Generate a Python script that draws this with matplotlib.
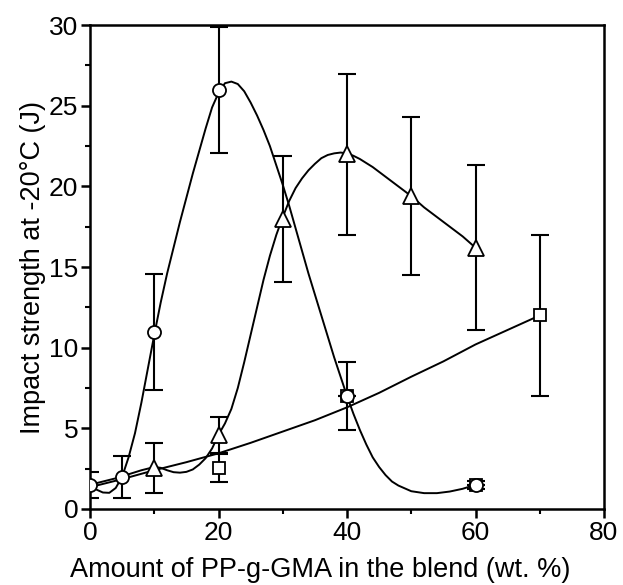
import matplotlib
matplotlib.use("Agg")
import matplotlib.pyplot as plt
from matplotlib.ticker import MultipleLocator

plt.rcParams['font.family'] = ['Liberation Sans', 'DejaVu Sans']

# measured points (PP-g-GMA wt.% vs impact strength, J)
circ_x = [0, 5, 10, 20, 40, 60]
circ_y = [1.5, 2.0, 11.0, 26.0, 7.0, 1.5]
circ_err = [0.8, 1.3, 3.6, 3.9, 2.1, 0.25]

tri_x = [10, 20, 30, 40, 50, 60]
tri_y = [2.55, 4.6, 18.0, 22.0, 19.4, 16.2]
tri_err = [1.55, 1.1, 3.9, 5.0, 4.9, 5.1]

sq_x = [20, 40, 60, 70]
sq_y = [2.55, 7.0, 1.5, 12.0]
sq_err = [0.85, 0.0, 0.0, 5.0]

# fitted curves
circ_fit_x = [0, 1, 2, 3, 4, 5, 6, 7, 8, 9, 10, 11, 12, 13, 14, 15, 16, 17, 18, 19, 20,
              21, 22, 23, 24, 25, 26, 27, 28, 29, 30, 31, 32, 33, 34, 35, 36, 37, 38, 39, 40,
              41, 42, 43, 44, 45, 46, 47, 48, 50, 52, 54, 56, 58, 60]
circ_fit_y = [1.5, 1.2, 1.02, 1.0, 1.3, 2.0, 3.2, 4.7, 6.6, 8.7, 10.8, 12.8, 14.6, 16.2, 17.8, 19.3,
              20.8, 22.2, 23.6, 24.9, 25.8, 26.4, 26.5, 26.35, 25.9, 25.2, 24.4, 23.5, 22.5, 21.3,
              20.1, 18.8, 17.4, 16.0, 14.6, 13.3, 12.0, 10.7, 9.4, 8.2, 7.0, 5.9, 4.9, 4.0, 3.2,
              2.6, 2.1, 1.7, 1.45, 1.1, 0.98, 0.98, 1.08, 1.25, 1.5]

tri_fit_x = [0, 2, 4, 6, 8, 10, 11, 12, 13, 14, 15, 16, 17, 18, 19, 20, 21, 22, 23, 24, 25, 26,
             27, 28, 29, 30, 31, 32, 33, 34, 35, 36, 37, 38, 39, 40, 41, 42, 43, 44, 45, 46, 47,
             48, 49, 50, 52, 54, 56, 58, 60]
tri_fit_y = [1.5, 1.7, 1.9, 2.15, 2.4, 2.6, 2.55, 2.4, 2.28, 2.25, 2.3, 2.45, 2.75, 3.15, 3.75,
             4.6, 5.3, 6.2, 7.5, 9.1, 10.8, 12.5, 14.2, 15.7, 17.0, 18.1, 19.1, 19.9, 20.5, 21.0,
             21.4, 21.75, 21.95, 22.05, 22.1, 22.05, 21.9, 21.7, 21.45, 21.2, 20.9, 20.6, 20.3,
             20.0, 19.7, 19.4, 18.7, 18.1, 17.5, 16.9, 16.2]

sq_fit_x = [0, 5, 10, 15, 20, 25, 30, 35, 40, 45, 50, 55, 60, 65, 70]
sq_fit_y = [1.35, 1.85, 2.4, 2.9, 3.45, 4.1, 4.8, 5.5, 6.3, 7.2, 8.2, 9.15, 10.2, 11.1, 12.0]

fig = plt.figure(figsize=(6.23, 5.85), dpi=100)
ax = fig.add_axes([0.1445, 0.130, 0.825, 0.827])

# curves
for fx, fy in [(circ_fit_x, circ_fit_y), (tri_fit_x, tri_fit_y), (sq_fit_x, sq_fit_y)]:
    ax.plot(fx, fy, color='black', lw=1.4, zorder=2, solid_joinstyle='round')

# error bars + markers
eb = dict(fmt='none', ecolor='black', elinewidth=1.5, capsize=6.8, capthick=1.5, zorder=3)
ax.errorbar(sq_x, sq_y, yerr=sq_err, **eb)
ax.errorbar(tri_x, tri_y, yerr=tri_err, **eb)
ax.errorbar(circ_x, circ_y, yerr=circ_err, **eb)

mk = dict(linestyle='none', markerfacecolor='white', markeredgecolor='black', markeredgewidth=1.3)
ax.plot(sq_x, sq_y, marker='s', markersize=8.6, zorder=4, **mk)
ax.plot(tri_x, tri_y, marker='^', markersize=11.5, zorder=5, **mk)
ax.plot(circ_x, circ_y, marker='o', markersize=9.4, zorder=6, **mk)

ax.set_xlim(0, 80)
ax.set_ylim(0, 30)
ax.xaxis.set_major_locator(MultipleLocator(20))
ax.xaxis.set_minor_locator(MultipleLocator(10))
ax.yaxis.set_major_locator(MultipleLocator(5))
ax.yaxis.set_minor_locator(MultipleLocator(2.5))

ax.tick_params(which='major', direction='out', length=6.5, width=1.8, labelsize=19, pad=2)
ax.tick_params(which='minor', direction='out', length=3.5, width=1.5)
for s in ax.spines.values():
    s.set_linewidth(1.8)

ax.set_xlabel("Amount of PP-g-GMA in the blend (wt. %)", fontsize=19.5, labelpad=9)
ax.xaxis.label.set_x(0.447)
ax.set_ylabel("Impact strength at -20\u00b0C (J)", fontsize=19.5, labelpad=2)

plt.savefig("out.png", dpi=100)
plt.close()
